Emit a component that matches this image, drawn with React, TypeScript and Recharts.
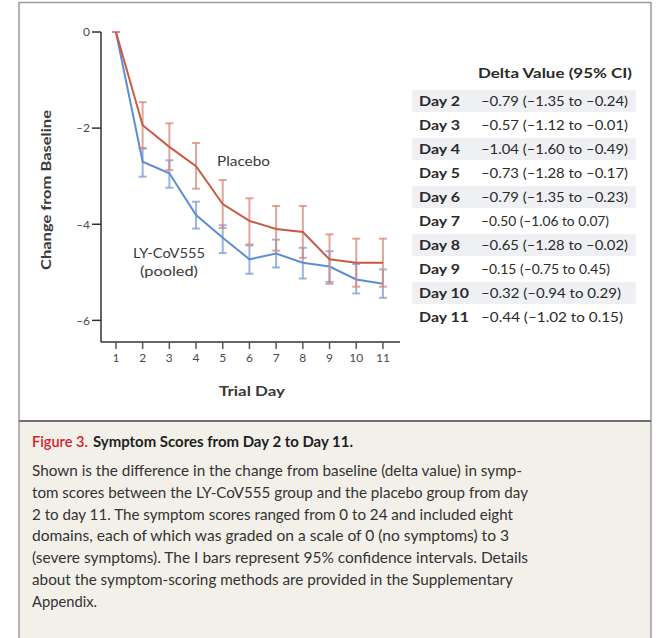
import React from 'react';
import { LineChart, Line, XAxis, YAxis, ErrorBar } from 'recharts';

const days = [1, 2, 3, 4, 5, 6, 7, 8, 9, 10, 11];
const placeboMean = [0, -1.94, -2.39, -2.79, -3.58, -3.93, -4.1, -4.16, -4.73, -4.8, -4.8];
const placeboLow = [0, -2.42, -2.87, -3.26, -4.08, -4.42, -4.55, -4.7, -5.24, -5.3, -5.3];
const placeboHigh = [0, -1.46, -1.9, -2.31, -3.08, -3.46, -3.62, -3.62, -4.21, -4.3, -4.3];
const lyMean = [0, -2.7, -2.94, -3.81, -4.28, -4.73, -4.61, -4.8, -4.88, -5.15, -5.24];
const lyLow = [0, -3.01, -3.24, -4.09, -4.6, -5.03, -4.9, -5.13, -5.2, -5.44, -5.53];
const lyHigh = [0, -2.42, -2.67, -3.53, -4.02, -4.44, -4.32, -4.49, -4.56, -4.83, -4.94];

const yTicks = [0, -2, -4, -6];
const xTicks = [1, 2, 3, 4, 5, 6, 7, 8, 9, 10, 11];

const tableDays = ['Day 2', 'Day 3', 'Day 4', 'Day 5', 'Day 6', 'Day 7', 'Day 8', 'Day 9', 'Day 10', 'Day 11'];
const tableValues = [
  '\u20130.79 (\u20131.35 to \u20130.24)',
  '\u20130.57 (\u20131.12 to \u20130.01)',
  '\u20131.04 (\u20131.60 to \u20130.49)',
  '\u20130.73 (\u20131.28 to \u20130.17)',
  '\u20130.79 (\u20131.35 to \u20130.23)',
  '\u20130.50 (\u20131.06 to 0.07)',
  '\u20130.65 (\u20131.28 to \u20130.02)',
  '\u20130.15 (\u20130.75 to 0.45)',
  '\u20130.32 (\u20130.94 to 0.29)',
  '\u20130.44 (\u20131.02 to 0.15)',
];
const tableValueWidths = [147, 147, 147, 147, 147, 128, 147, 129, 140, 142];
const tableDayWidths = [41, 41, 41, 41, 41, 41, 41, 41, 50, 50];
const tableHeader = 'Delta Value (95% CI)';

const captionLabel = 'Figure 3.';
const captionTitle = 'Symptom Scores from Day 2 to Day 11.';
const captionLines = [
  'Shown is the difference in the change from baseline (delta value) in symp-',
  'tom scores between the LY-CoV555 group and the placebo group from day',
  '2 to day 11. The symptom scores ranged from 0 to 24 and included eight',
  'domains, each of which was graded on a scale of 0 (no symptoms) to 3',
  '(severe symptoms). The I bars represent 95% confidence intervals. Details',
  'about the symptom-scoring methods are provided in the Supplementary',
  'Appendix.',
];
const captionWidths = [490, 496, 481, 477, 496, 481, 65];

const data = days.map((d, i) => ({
  day: d,
  placebo: placeboMean[i],
  ly: lyMean[i],
  placeboErr: [placeboMean[i] - placeboLow[i], placeboHigh[i] - placeboMean[i]],
  lyErr: [lyMean[i] - lyLow[i], lyHigh[i] - lyMean[i]],
}));

const FONT = 'Lato, "Open Sans", sans-serif';
const RED = '#c95a45';
const BLUE = '#5d8ed3';
const TEXT = '#3a3a3a';

const fmt = (v: number) => (v === 0 ? '0' : '\u2013' + Math.abs(v));

export default function App() {
  return (
    <div style={{ position: 'absolute', left: 0, top: 0, width: 656, height: 638, background: '#fff', fontFamily: FONT, overflow: 'hidden' }}>
      <svg width={656} height={638} style={{ position: 'absolute', left: 0, top: 0 }}>
        <rect x={19} y={421} width={632} height={217} fill="#f3f0ea" />
        {tableDays.map((d, i) =>
          i % 2 === 0 ? <rect key={d} x={412} y={90 + i * 24} width={224} height={22} fill="#eef0f3" /> : null
        )}
        <rect x={19} y={2.5} width={632} height={640} fill="none" stroke="#9a9a9a" strokeWidth={1.5} />
        <line x1={19} x2={651} y1={421} y2={421} stroke="#6f6f6f" strokeWidth={2} />
      </svg>
      <div style={{ position: 'absolute', left: 0, top: 0 }}>
        <LineChart width={656} height={420} data={data} margin={{ top: 32, right: 256, bottom: 48, left: 0 }}>
          <XAxis
            dataKey="day"
            type="number"
            domain={[0.44, 11.64]}
            ticks={xTicks}
            allowDataOverflow
            height={30}
            tickSize={7}
            tickMargin={4}
            axisLine={{ stroke: '#333', strokeWidth: 1.5 }}
            tickLine={{ stroke: '#555', strokeWidth: 1.5 }}
            tick={{ fill: '#4a4a4a', fontSize: 12, fontFamily: FONT }}
          />
          <YAxis
            type="number"
            domain={[-6.45, 0]}
            ticks={yTicks}
            allowDataOverflow
            width={101}
            tickSize={9}
            tickMargin={2}
            tickFormatter={fmt}
            axisLine={{ stroke: '#333', strokeWidth: 1.5 }}
            tickLine={{ stroke: '#333', strokeWidth: 1.5 }}
            tick={{ fill: '#4a4a4a', fontSize: 12, fontFamily: FONT }}
          />
          <Line dataKey="ly" stroke={BLUE} strokeWidth={2} dot={false} isAnimationActive={false}>
            <ErrorBar dataKey="lyErr" direction="y" width={4} stroke="#7ea3dc" strokeOpacity={0.8} strokeWidth={2} isAnimationActive={false} />
          </Line>
          <Line dataKey="placebo" stroke={RED} strokeWidth={2} dot={false} isAnimationActive={false}>
            <ErrorBar dataKey="placeboErr" direction="y" width={4} stroke="#dc8676" strokeOpacity={0.75} strokeWidth={2} isAnimationActive={false} />
          </Line>
        </LineChart>
      </div>
      <svg width={656} height={638} style={{ position: 'absolute', left: 0, top: 0, pointerEvents: 'none' }} fontFamily={FONT}>
        <text x={46} y={190} transform="rotate(-90 46 190)" textAnchor="middle" dominantBaseline="central" fontSize={13.5} fontWeight={700} fill={TEXT} textLength={160} lengthAdjust="spacingAndGlyphs">
          Change from Baseline
        </text>
        <text x={252} y={390} textAnchor="middle" dominantBaseline="central" fontSize={14} fontWeight={700} fill={TEXT} textLength={66} lengthAdjust="spacingAndGlyphs">
          Trial Day
        </text>
        <text x={243.5} y={161} textAnchor="middle" dominantBaseline="central" fontSize={13} fill={TEXT} textLength={53} lengthAdjust="spacingAndGlyphs">
          Placebo
        </text>
        <text x={169} y={253} textAnchor="middle" dominantBaseline="central" fontSize={12.5} fill={TEXT} textLength={72} lengthAdjust="spacingAndGlyphs">
          LY-CoV555
        </text>
        <text x={169} y={271} textAnchor="middle" dominantBaseline="central" fontSize={12.5} fill={TEXT} textLength={58} lengthAdjust="spacingAndGlyphs">
          (pooled)
        </text>
        <text x={632} y={78} textAnchor="end" fontSize={12.5} fontWeight={700} fill="#2a2a2a" textLength={154} lengthAdjust="spacingAndGlyphs">
          {tableHeader}
        </text>
        {tableDays.map((d, i) => (
          <g key={d}>
            <text x={419} y={106 + i * 24} fontSize={13.5} fontWeight={700} fill="#2a2a2a" textLength={tableDayWidths[i]} lengthAdjust="spacingAndGlyphs">
              {d}
            </text>
            <text x={481} y={106 + i * 24} fontSize={12.5} fill="#2a2a2a" textLength={tableValueWidths[i]} lengthAdjust="spacingAndGlyphs">
              {tableValues[i]}
            </text>
          </g>
        ))}
        <text x={32} y={447} fontSize={16} fill="#d5232f" fontWeight={600} textLength={56} lengthAdjust="spacingAndGlyphs">
          {captionLabel}
        </text>
        <text x={93} y={447} fontSize={16} fill="#1f1f1f" fontWeight={700} textLength={260} lengthAdjust="spacingAndGlyphs">
          {captionTitle}
        </text>
        {captionLines.map((l, i) => (
          <text key={i} x={32} y={476 + i * 21.8} fontSize={16} fill="#333" textLength={captionWidths[i]} lengthAdjust="spacingAndGlyphs">
            {l}
          </text>
        ))}
      </svg>
    </div>
  );
}
